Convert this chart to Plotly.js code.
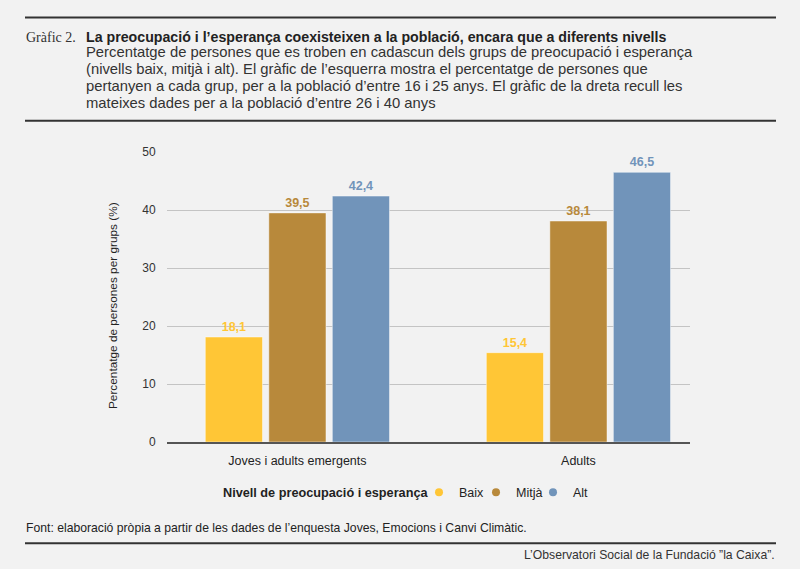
<!DOCTYPE html>
<html>
<head>
<meta charset="utf-8">
<script src="https://cdn.plot.ly/plotly-3.0.1.min.js"></script>
<style>
html,body{margin:0;padding:0;background:#f2f2f2;}
#chart{width:800px;height:569px;}
</style>
</head>
<body>
<div id="chart"></div>
<script>
// ---- data ----
var categories = ["Joves i adults emergents", "Adults"];
var seriesNames = ["Baix", "Mitjà", "Alt"];
var baixValues = [18.1, 15.4];
var mitjaValues = [39.5, 38.1];
var altValues = [42.4, 46.5];
var yTickValues = [0, 10, 20, 30, 40, 50];

var colors = ["#FFC636", "#B8893B", "#7194BA"];
var seriesValues = [baixValues, mitjaValues, altValues];

var W = 800, H = 569;
var mL = 167, mR = 110, mT = 152, mB = 127;
var pw = W - mL - mR, ph = H - mT - mB;
function PX(px){ return (px - mL) / pw; }
function PY(py){ return (H - mB - py) / ph; }

var traces = [];
seriesNames.forEach(function(name, i){
  traces.push({
    type: "bar",
    name: name,
    x: categories,
    y: seriesValues[i],
    marker: {color: colors[i], line: {color: "rgba(255,255,255,0.45)", width: 1}},
    texttemplate: "%{y:.1f}",
    textposition: "outside",
    cliponaxis: false,
    textfont: {family: "Liberation Sans, Arial, sans-serif", size: 12.5, color: colors[i], weight: "bold"},
    showlegend: false,
    hoverinfo: "x+y+name"
  });
});
seriesNames.forEach(function(name, i){
  traces.push({
    type: "scatter",
    mode: "markers",
    name: name,
    x: [null], y: [null],
    marker: {color: colors[i], size: 8, symbol: "circle"},
    showlegend: true,
    hoverinfo: "skip"
  });
});

var sans = "Liberation Sans, Arial, sans-serif";
var subtitleLines = [
  "Percentatge de persones que es troben en cadascun dels grups de preocupació i esperança",
  "(nivells baix, mitjà i alt). El gràfic de l’esquerra mostra el percentatge de persones que",
  "pertanyen a cada grup, per a la població d’entre 16 i 25 anys. El gràfic de la dreta recull les",
  "mateixes dades per a la població d’entre 26 i 40 anys"
];
var subY = [52, 69, 86, 103];

function ann(o){ o.xref = "paper"; o.yref = "paper"; o.showarrow = false; return o; }

var annotations = [
  ann({text: "Gràfic 2.", x: PX(24), y: PY(37), xanchor: "left", yanchor: "middle",
   font: {family: "Liberation Serif, serif", size: 14, color: "#333"}}),
  ann({text: "<b>La preocupació i l’esperança coexisteixen a la població, encara que a diferents nivells</b>",
   x: PX(84), y: PY(36.5), xanchor: "left", yanchor: "middle",
   font: {family: sans, size: 14.2, color: "#222"}}),
  ann({text: "Percentatge de persones per grups (%)", x: PX(113), y: PY(306), textangle: -90,
   xanchor: "center", yanchor: "middle", font: {family: sans, size: 11.8, color: "#222"}}),
  ann({text: "<b>Nivell de preocupació i esperança</b>", x: PX(220.5), y: PY(492.5), xanchor: "left", yanchor: "middle",
   font: {family: sans, size: 12.7, color: "#222"}}),
  ann({text: "Font: elaboració pròpia a partir de les dades de l’enquesta Joves, Emocions i Canvi Climàtic.",
   x: PX(24), y: PY(528), xanchor: "left", yanchor: "middle",
   font: {family: sans, size: 12.2, color: "#222"}}),
  ann({text: "L’Observatori Social de la Fundació ”la Caixa”.",
   x: PX(777), y: PY(555), xanchor: "right", yanchor: "middle",
   font: {family: sans, size: 12.2, color: "#333"}})
];
subtitleLines.forEach(function(t, i){
  annotations.push(ann({text: t, x: PX(84), y: PY(subY[i]), xanchor: "left", yanchor: "middle",
    font: {family: sans, size: 14.8, color: "#333"}}));
});

function hline(py, x0, x1, w){
  return {type: "line", xref: "paper", yref: "paper", x0: PX(x0), x1: PX(x1), y0: PY(py), y1: PY(py),
    line: {color: "#333", width: w}};
}

var layout = {
  width: W, height: H,
  paper_bgcolor: "#f2f2f2", plot_bgcolor: "#f2f2f2",
  margin: {l: mL, r: mR, t: mT, b: mB, pad: 0},
  barmode: "group", bargap: 0.322, bargroupgap: 0.1,
  separators: ",.",
  font: {family: sans, color: "#222"},
  xaxis: {
    type: "category", range: [-0.464, 1.397], showgrid: false, zeroline: false,
    showline: true, linecolor: "#555", linewidth: 2,
    ticks: "outside", ticklen: 6, tickcolor: "rgba(0,0,0,0)",
    tickfont: {family: sans, size: 12.5, color: "#222"}, fixedrange: true
  },
  yaxis: {
    range: [0, 50], tickvals: yTickValues, ticktext: yTickValues.map(String),
    showgrid: true, gridcolor: "#c4c4c4", gridwidth: 1, zeroline: false, showline: false,
    ticks: "outside", ticklen: 8, tickcolor: "rgba(0,0,0,0)",
    tickfont: {family: sans, size: 12, color: "#333"}, fixedrange: true
  },
  legend: {
    orientation: "h", x: PX(419), xanchor: "left", y: PY(492.5), yanchor: "middle",
    bgcolor: "rgba(0,0,0,0)", borderwidth: 0,
    font: {family: sans, size: 12.5, color: "#222"},
    entrywidth: 12, entrywidthmode: "pixels", itemclick: false, itemdoubleclick: false
  },
  shapes: [hline(17.5, 25, 776, 2), hline(120.7, 25, 776, 2), hline(543.3, 25, 776, 2)],
  annotations: annotations,
  showlegend: true
};

Plotly.newPlot("chart", traces, layout, {displayModeBar: false, staticPlot: true});
</script>
</body>
</html>
